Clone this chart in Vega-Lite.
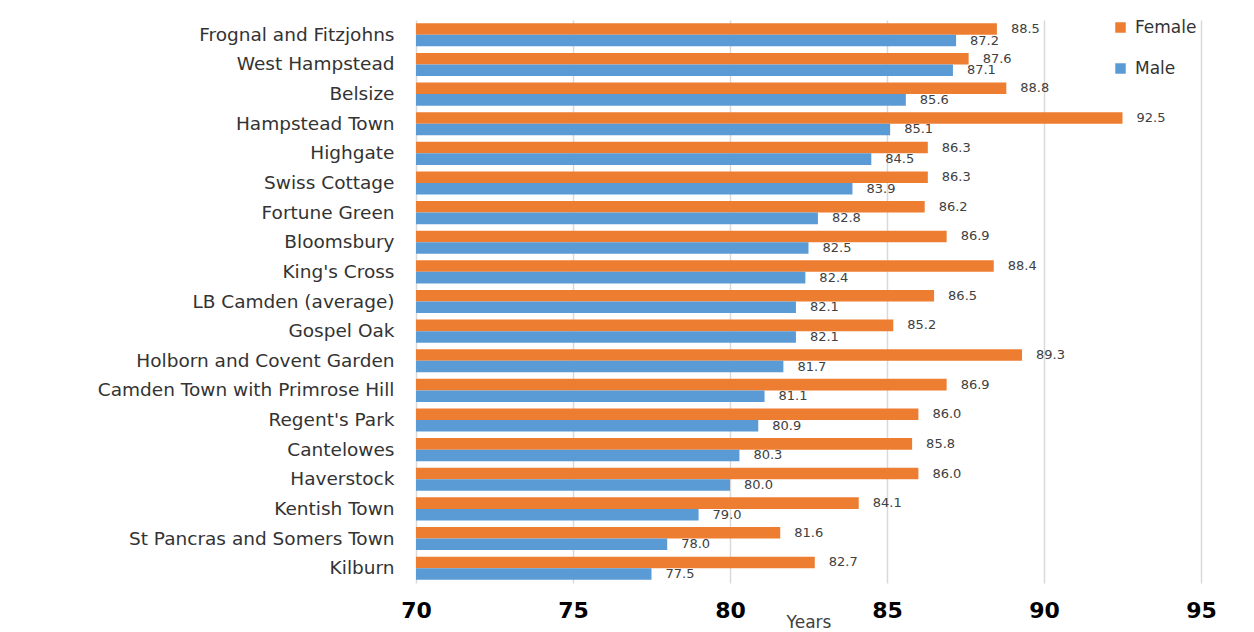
{
  "$schema": "https://vega.github.io/schema/vega-lite/v6.json",
  "autosize": "none",
  "width": 785,
  "height": 563,
  "padding": {"left": 416, "top": 20, "right": 40, "bottom": 49},
  "background": "white",
  "config": {
    "view": {"stroke": null},
    "font": "DejaVu Sans"
  },
  "data": {
    "values": [
      {"ward": "Frognal and Fitzjohns", "sex": "Female", "years": 88.5},
      {"ward": "Frognal and Fitzjohns", "sex": "Male", "years": 87.2},
      {"ward": "West Hampstead", "sex": "Female", "years": 87.6},
      {"ward": "West Hampstead", "sex": "Male", "years": 87.1},
      {"ward": "Belsize", "sex": "Female", "years": 88.8},
      {"ward": "Belsize", "sex": "Male", "years": 85.6},
      {"ward": "Hampstead Town", "sex": "Female", "years": 92.5},
      {"ward": "Hampstead Town", "sex": "Male", "years": 85.1},
      {"ward": "Highgate", "sex": "Female", "years": 86.3},
      {"ward": "Highgate", "sex": "Male", "years": 84.5},
      {"ward": "Swiss Cottage", "sex": "Female", "years": 86.3},
      {"ward": "Swiss Cottage", "sex": "Male", "years": 83.9},
      {"ward": "Fortune Green", "sex": "Female", "years": 86.2},
      {"ward": "Fortune Green", "sex": "Male", "years": 82.8},
      {"ward": "Bloomsbury", "sex": "Female", "years": 86.9},
      {"ward": "Bloomsbury", "sex": "Male", "years": 82.5},
      {"ward": "King's Cross", "sex": "Female", "years": 88.4},
      {"ward": "King's Cross", "sex": "Male", "years": 82.4},
      {"ward": "LB Camden (average)", "sex": "Female", "years": 86.5},
      {"ward": "LB Camden (average)", "sex": "Male", "years": 82.1},
      {"ward": "Gospel Oak", "sex": "Female", "years": 85.2},
      {"ward": "Gospel Oak", "sex": "Male", "years": 82.1},
      {"ward": "Holborn and Covent Garden", "sex": "Female", "years": 89.3},
      {"ward": "Holborn and Covent Garden", "sex": "Male", "years": 81.7},
      {"ward": "Camden Town with Primrose Hill", "sex": "Female", "years": 86.9},
      {"ward": "Camden Town with Primrose Hill", "sex": "Male", "years": 81.1},
      {"ward": "Regent's Park", "sex": "Female", "years": 86.0},
      {"ward": "Regent's Park", "sex": "Male", "years": 80.9},
      {"ward": "Cantelowes", "sex": "Female", "years": 85.8},
      {"ward": "Cantelowes", "sex": "Male", "years": 80.3},
      {"ward": "Haverstock", "sex": "Female", "years": 86.0},
      {"ward": "Haverstock", "sex": "Male", "years": 80.0},
      {"ward": "Kentish Town", "sex": "Female", "years": 84.1},
      {"ward": "Kentish Town", "sex": "Male", "years": 79.0},
      {"ward": "St Pancras and Somers Town", "sex": "Female", "years": 81.6},
      {"ward": "St Pancras and Somers Town", "sex": "Male", "years": 78.0},
      {"ward": "Kilburn", "sex": "Female", "years": 82.7},
      {"ward": "Kilburn", "sex": "Male", "years": 77.5}
    ]
  },
  "encoding": {
    "y": {
      "field": "ward",
      "type": "nominal",
      "sort": null,
      "scale": {"paddingInner": 0.22, "paddingOuter": 0.11},
      "axis": {
        "title": null,
        "ticks": false,
        "domain": false,
        "labelFontSize": 18.5,
        "labelColor": "#333333",
        "labelPadding": 22,
        "labelLimit": 400
      }
    },
    "yOffset": {"field": "sex", "type": "nominal", "sort": ["Female", "Male"]}
  },
  "layer": [
    {
      "mark": {"type": "bar"},
      "encoding": {
        "x": {
          "field": "years",
          "type": "quantitative",
          "scale": {"domain": [70, 95], "zero": false, "nice": false},
          "axis": {
            "values": [70, 75, 80, 85, 90, 95],
            "title": "Years",
            "titleFontSize": 17,
            "titleFontWeight": "normal",
            "titleColor": "#404040",
            "titlePadding": -7,
            "labelFontSize": 22,
            "labelFontWeight": "bold",
            "labelColor": "#000000",
            "labelPadding": 17,
            "labelFlush": false,
            "ticks": false,
            "domain": false,
            "grid": true,
            "gridColor": "#d9d9d9",
            "gridWidth": 1.5
          }
        },
        "x2": {"datum": 70},
        "color": {
          "field": "sex",
          "type": "nominal",
          "scale": {"domain": ["Female", "Male"], "range": ["#ED7D31", "#5B9BD5"]},
          "legend": {
            "title": null,
            "orient": "none",
            "legendX": 696,
            "legendY": -1,
            "symbolType": "square",
            "symbolSize": 110,
            "labelFontSize": 17,
            "labelColor": "#333333",
            "rowPadding": 23,
            "labelOffset": 6
          }
        }
      }
    },
    {
      "mark": {"type": "text", "align": "left", "dx": 14, "fontSize": 13, "color": "#404040", "baseline": "middle"},
      "encoding": {
        "x": {"field": "years", "type": "quantitative"},
        "text": {"field": "years", "type": "quantitative", "format": ".1f"}
      }
    }
  ]
}
